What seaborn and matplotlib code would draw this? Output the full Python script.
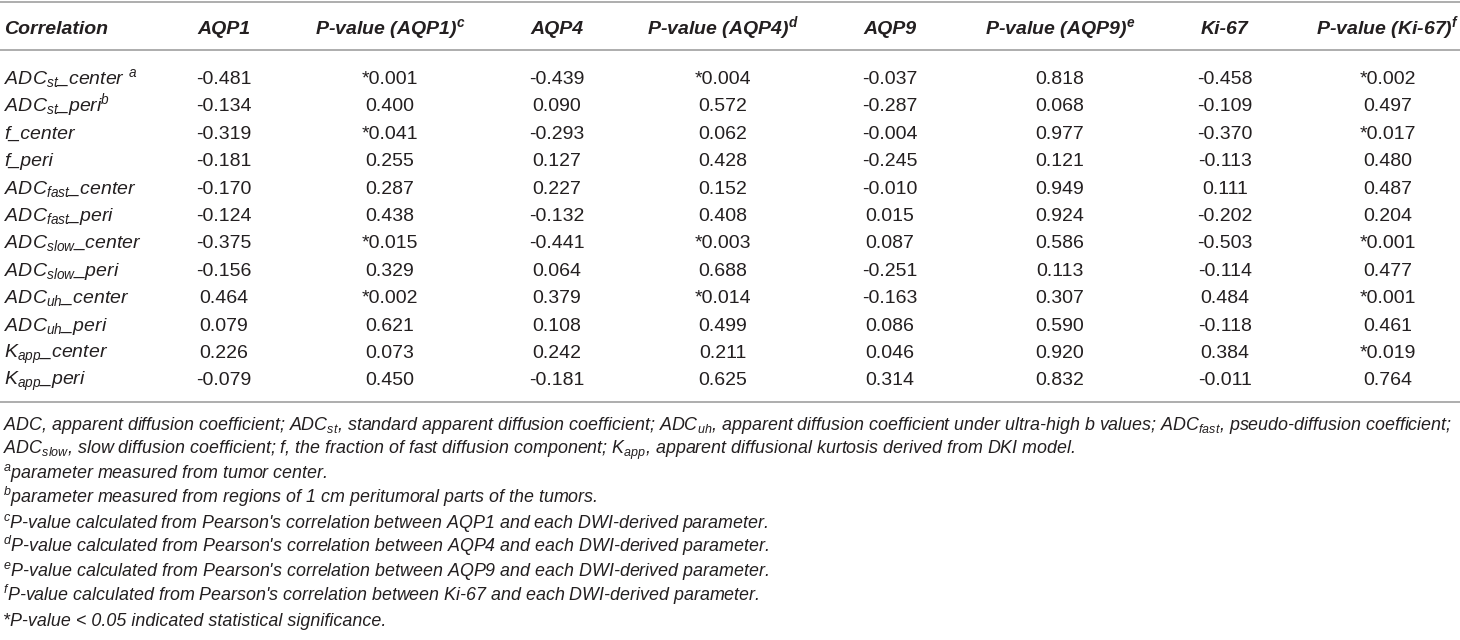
import matplotlib
matplotlib.use("Agg")
import matplotlib.pyplot as plt
import seaborn as sns

sns.set_theme(style="white")
plt.rcParams["font.family"] = ["Liberation Sans", "DejaVu Sans"]
plt.rcParams["mathtext.fontset"] = "custom"
plt.rcParams["mathtext.rm"] = "Liberation Sans"
plt.rcParams["mathtext.it"] = "Liberation Sans:italic"
plt.rcParams["mathtext.bf"] = "Liberation Sans:bold"
plt.rcParams["mathtext.bfit"] = "Liberation Sans:italic:bold"

# table content
headers = ["Correlation", "AQP1", "P-value (AQP1)$^{\\mathbfit{c}}$", "AQP4",
           "P-value (AQP4)$^{\\mathbfit{d}}$", "AQP9", "P-value (AQP9)$^{\\mathbfit{e}}$",
           "Ki-67", "P-value (Ki-67)$^{\\mathbfit{f}}$"]

row_labels = ["ADC$_{st}$_center $^{a}$", "ADC$_{st}$_peri$^{b}$", "f_center", "f_peri",
              "ADC$_{fast}$_center", "ADC$_{fast}$_peri", "ADC$_{slow}$_center",
              "ADC$_{slow}$_peri", "ADC$_{uh}$_center", "ADC$_{uh}$_peri",
              "K$_{app}$_center", "K$_{app}$_peri"]

aqp1_r = ["-0.481", "-0.134", "-0.319", "-0.181", "-0.170", "-0.124",
          "-0.375", "-0.156", "0.464", "0.079", "0.226", "-0.079"]
aqp1_p = ["*0.001", "0.400", "*0.041", "0.255", "0.287", "0.438",
          "*0.015", "0.329", "*0.002", "0.621", "0.073", "0.450"]
aqp4_r = ["-0.439", "0.090", "-0.293", "0.127", "0.227", "-0.132",
          "-0.441", "0.064", "0.379", "0.108", "0.242", "-0.181"]
aqp4_p = ["*0.004", "0.572", "0.062", "0.428", "0.152", "0.408",
          "*0.003", "0.688", "*0.014", "0.499", "0.211", "0.625"]
aqp9_r = ["-0.037", "-0.287", "-0.004", "-0.245", "-0.010", "0.015",
          "0.087", "-0.251", "-0.163", "0.086", "0.046", "0.314"]
aqp9_p = ["0.818", "0.068", "0.977", "0.121", "0.949", "0.924",
          "0.586", "0.113", "0.307", "0.590", "0.920", "0.832"]
ki67_r = ["-0.458", "-0.109", "-0.370", "-0.113", "0.111", "-0.202",
          "-0.503", "-0.114", "0.484", "-0.118", "0.384", "-0.011"]
ki67_p = ["*0.002", "0.497", "*0.017", "0.480", "0.487", "0.204",
          "*0.001", "0.477", "*0.001", "0.461", "*0.019", "0.764"]

footnotes = [
    "ADC, apparent diffusion coefficient; ADC$_{st}$, standard apparent diffusion coefficient; "
    "ADC$_{uh}$, apparent diffusion coefficient under ultra-high b values; ADC$_{fast}$, pseudo-diffusion coefficient;",
    "ADC$_{slow}$, slow diffusion coefficient; f, the fraction of fast diffusion component; "
    "K$_{app}$, apparent diffusional kurtosis derived from DKI model.",
    "$^{a}$parameter measured from tumor center.",
    "$^{b}$parameter measured from regions of 1 cm peritumoral parts of the tumors.",
    "$^{c}$P-value calculated from Pearson's correlation between AQP1 and each DWI-derived parameter.",
    "$^{d}$P-value calculated from Pearson's correlation between AQP4 and each DWI-derived parameter.",
    "$^{e}$P-value calculated from Pearson's correlation between AQP9 and each DWI-derived parameter.",
    "$^{f}$P-value calculated from Pearson's correlation between Ki-67 and each DWI-derived parameter.",
    "*P-value < 0.05 indicated statistical significance.",
]

columns = [aqp1_r, aqp1_p, aqp4_r, aqp4_p, aqp9_r, aqp9_p, ki67_r, ki67_p]
col_x = [224, 390, 557, 723, 890, 1060, 1225, 1388]

txt = "#231f20"
rule = "#a7a7a7"
fs = 14
fs_note = 12.88

fig = plt.figure(figsize=(14.6, 6.4), dpi=100)
ax = fig.add_axes([0, 0, 1, 1])
ax.set_xlim(0, 1460)
ax.set_ylim(640, 0)
ax.axis("off")

# rules
for y in [1.5, 50, 402]:
    ax.plot([0, 1460], [y, y], color=rule, lw=1.3, solid_capstyle="butt")

# header (baseline placed so the caps sit around y=27)
hb = 34
ax.text(4, hb, headers[0], ha="left", va="baseline", fontsize=fs,
        fontweight="bold", fontstyle="italic", color=txt)
for x, h in zip(col_x, headers[1:]):
    ax.text(x, hb, h, ha="center", va="baseline", fontsize=fs,
            fontweight="bold", fontstyle="italic", color=txt)

# body
row_y = [84 + 27.4 * i for i in range(len(row_labels))]
for y, lab in zip(row_y, row_labels):
    ax.text(4, y, lab, ha="left", va="baseline", fontsize=fs, fontstyle="italic", color=txt)
for x, vals in zip(col_x, columns):
    for y, v in zip(row_y, vals):
        ax.text(x, y, v, ha="center", va="baseline", fontsize=fs, color=txt)

# notes
for i, note in enumerate(footnotes):
    ax.text(3, 429.5 + 24.5 * i, note, ha="left", va="baseline", fontsize=fs_note,
            fontstyle="italic", color=txt)

fig.savefig("out.png", dpi=100)
